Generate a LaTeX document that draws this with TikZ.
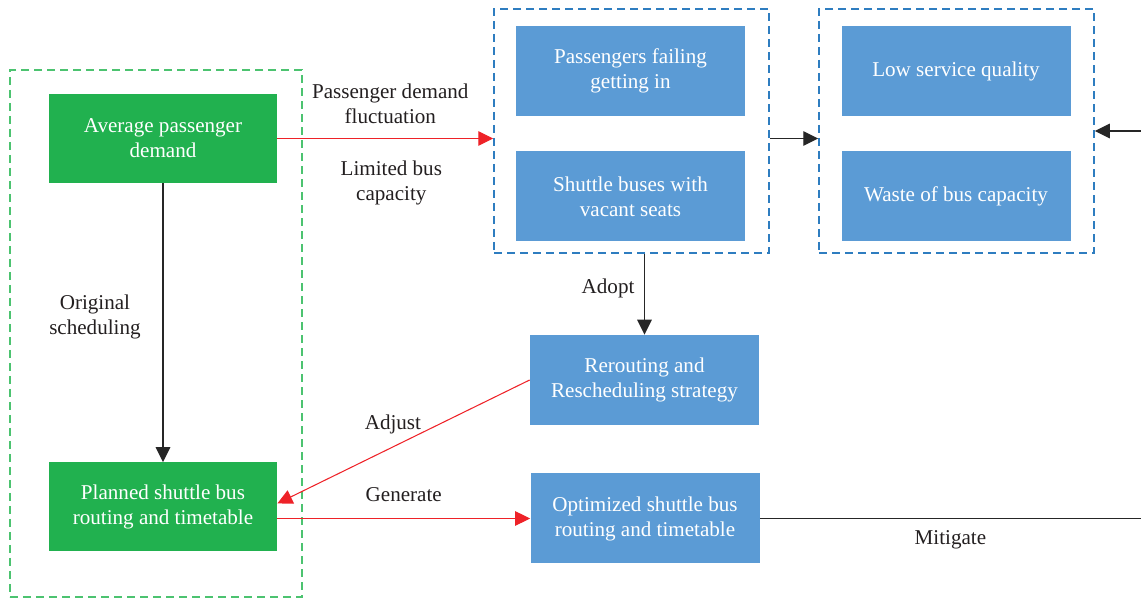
\documentclass[tikz,border=0pt]{standalone}
\usepackage{fontspec}
\setmainfont{Liberation Serif}
\usepackage{xcolor}
\usetikzlibrary{arrows.meta}

\definecolor{boxgreen}{RGB}{33,177,79}
\definecolor{boxblue}{RGB}{91,155,213}
\definecolor{frmgreen}{RGB}{76,195,112}
\definecolor{frmblue}{RGB}{46,125,192}
\definecolor{lnred}{RGB}{238,34,40}
\definecolor{txtdark}{RGB}{35,31,32}

\begin{document}
\begin{tikzpicture}[
    >={Triangle[length=3mm,width=2.9mm]},
    every node/.style={font=\fontsize{12}{14.2}\selectfont,text=txtdark,align=center},
    gbox/.style={fill=boxgreen,text=white,minimum width=4.56cm,minimum height=1.78cm,inner sep=2pt},
    bbox/.style={fill=boxblue,text=white,minimum width=4.58cm,minimum height=1.8cm,inner sep=2pt},
    frame/.style={draw,line width=0.85pt,dash pattern=on 1.6mm off 1mm,inner sep=0pt},
    bl/.style={->,line width=0.8pt,black!85},
    rd/.style={->,line width=0.6pt,lnred},
  ]
  \useasboundingbox (0,0) rectangle (22.82,11.98);

  % -- the planning side --
  \node[frame,frmgreen,minimum width=5.84cm,minimum height=10.54cm] (plan frame) at (3.12,5.31) {};
  \node[gbox] (avg)  at (3.26,9.21) {Average passenger\\demand};
  \node[gbox] (plan) at (3.26,1.84) {Planned shuttle bus\\routing and timetable};

  % -- what happens in operation --
  \node[frame,frmblue,minimum width=5.5cm,minimum height=4.88cm] (ops) at (12.63,9.36) {};
  \node[bbox] (fail)   at (12.61,10.56) {Passengers failing\\getting in};
  \node[bbox] (vacant) at (12.61,8.05)  {Shuttle buses with\\vacant seats};

  \node[frame,frmblue,minimum width=5.5cm,minimum height=4.88cm] (effects) at (19.13,9.36) {};
  \node[bbox] (low)   at (19.12,10.56) {Low service quality};
  \node[bbox] (waste) at (19.12,8.05)  {Waste of bus capacity};

  % -- the remedy --
  \node[bbox] (strat) at (12.89,4.38) {Rerouting and\\Rescheduling strategy};
  \node[bbox] (opt)   at (12.90,1.61) {Optimized shuttle bus\\routing and timetable};

  \coordinate (mit out) at (22.82,1.61);
  \coordinate (mit in)  at (22.82,9.36);

  % -- connectors --
  \draw[bl] (avg) -- node[left=9pt,pos=.48] {Original\\scheduling} (plan);
  \draw[rd] (avg.east) -- node[above=5pt,xshift=0.1cm] {Passenger demand\\fluctuation}
                          node[below=9pt,xshift=0.12cm] {Limited bus\\capacity} (avg.east -| ops.west);
  \draw[bl] (ops.east |- avg.east) -- (effects.west |- avg.east);
  \draw[bl] (strat.north |- ops.south) -- node[left=2pt,pos=.43] {Adopt} (strat.north);
  \draw[rd] (strat.west) -- node[pos=.53,xshift=-0.06cm,yshift=0.42cm] {Adjust} ([yshift=0.07cm]plan.east);
  \draw[rd] (plan.east |- opt.west) -- node[above=6pt] {Generate} (opt.west);
  \draw[line width=0.8pt,black!85] (opt.east) -- node[below=3pt] {Mitigate} (mit out);
  \draw[bl] (mit in) -- (effects.east);
\end{tikzpicture}
\end{document}
